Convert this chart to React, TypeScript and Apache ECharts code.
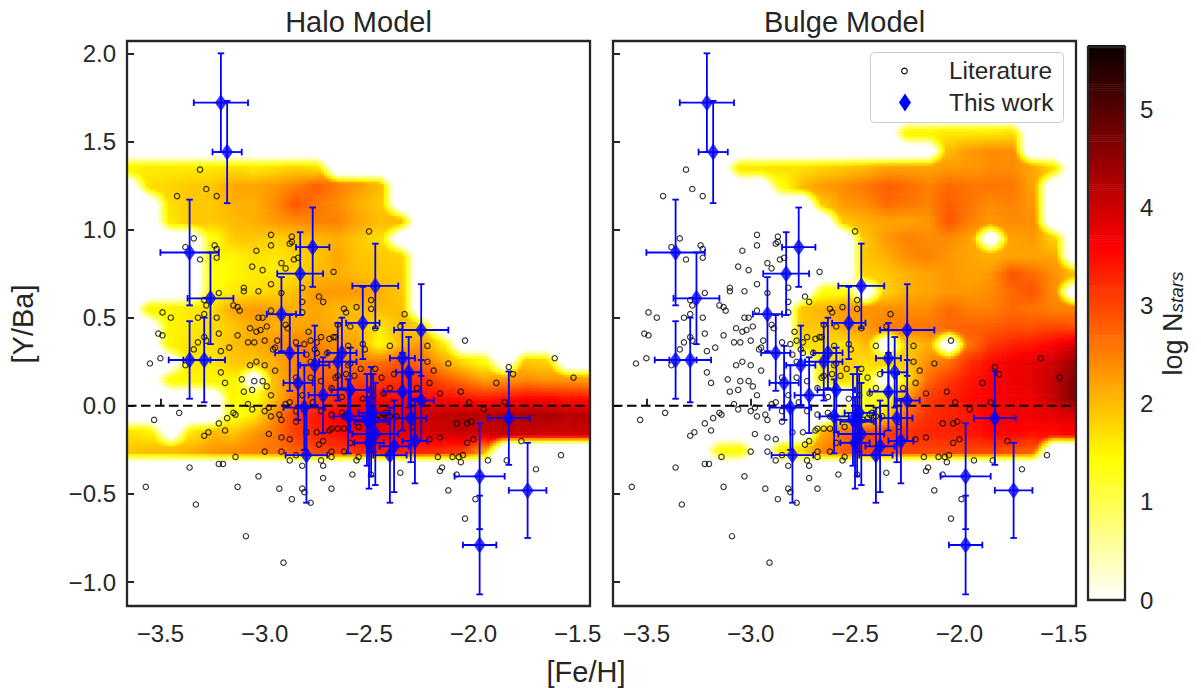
import React, { useEffect, useRef } from "react";
import * as echarts from "echarts";

const FONT = "Liberation Sans";
const INK = "#262626";
const xTicks = [-3.5, -3.0, -2.5, -2.0, -1.5];
const yTicks = [-1.0, -0.5, 0.0, 0.5, 1.0, 1.5, 2.0];
const cbTicks = [0, 1, 2, 3, 4, 5];
const xRange = [-3.66, -1.441];
const yRange = [-1.136, 2.07];
const cbMax = 5.64;
const zeroLine = [[-3.66, 0], [-1.441, 0]];

// log N_stars read per bin. Columns: [Fe/H] -3.65, -3.55, ... -1.45. Rows: [Y/Ba] 1.55, 1.45, ... -0.25.
const haloGrid = [
  [],
  [],
  [1.5,1.6,1.6,1.6,1.6,1.7,1.6,1.7,1.8,1.7],
  [0,1.7,1.8,1.9,1.9,2.2,2.2,2.3,2.5,2.8,2.5,2.3,2.0],
  [0,0,1.7,1.9,1.9,2.1,2.1,2.4,2.9,2.6,2.4,2.1,1.9],
  [0,0,1.6,1.9,1.9,2.0,2.1,2.3,2.4,2.5,2.5,2.2,2.0,2.0],
  [0,0,0,0,1.3,1.9,1.9,1.8,1.9,2.0,2.1,1.9,1.7],
  [0,0,0,0,1.5,1.5,1.7,1.6,1.8,1.9,2.2,1.9,1.9,1.8],
  [0,0,0,0,1.3,1.5,1.6,1.6,1.7,2.0,2.1,2.0,1.9,1.9],
  [0,0,0,0,1.4,1.6,1.7,1.8,2.0,2.3,2.3,2.3,2.1,1.9],
  [0,1.5,1.5,1.6,1.7,2.2,2.3,2.2,2.1,2.2,2.0,2.0,2.0,2.0],
  [0,0,1.5,1.6,1.7,1.9,2.2,2.1,2.2,2.2,2.1,2.0,1.6,2.0,1.8],
  [0,0,1.5,1.7,1.7,2.0,2.1,2.3,2.5,2.5,2.3,2.2,1.4,2.0,2.3,1.6],
  [0,0,0,1.6,1.6,1.9,1.9,2.1,2.5,2.7,2.5,2.6,2.6,2.9,2.7,2.2,1.7,1.4,0,1.9,1.8],
  [0,0,1.4,1.5,1.5,1.5,0,2.0,2.5,2.8,2.8,3.0,3.1,3.2,3.2,2.9,2.6,2.2,2.3,2.4,2.3,2.3,2.2],
  [0,0,0,0,0,1.5,1.3,2.0,2.7,3.0,3.2,3.4,3.5,3.5,3.5,3.5,3.4,3.3,3.4,3.5,3.5,3.4,3.4],
  [0,0,0,0,0,1.3,1.6,2.4,3.1,3.4,3.6,3.8,3.9,3.9,4.0,4.1,4.2,4.2,4.3,4.3,4.3,4.2,4.2],
  [1.7,1.5,0,1.6,2.0,1.9,2.3,2.6,3.1,3.3,3.5,3.7,3.8,3.8,3.9,4.0,4.1,4.0,4.1,4.0,4.0,4.0,4.0],
  [1.9,2.0,2.0,2.1,2.3,2.4,2.5,2.6,2.8,3.0,3.1,3.2,3.3,3.3,3.3,3.2,3.1,2.2],
];
const bulgeGrid = [
  [0,0,0,0,0,0,0,0,0,0,0,0,0,0,1.5,1.5,1.6,1.6,1.6,1.7],
  [0,0,0,0,0,0,0,0,0,0,0,0,0,0,0,0,2.0,2.3,2.4,2.4],
  [0,0,0,0,0,0,1.6,1.6,1.7,1.7,1.8,1.9,2.0,2.2,2.2,2.2,2.3,2.3,2.4,2.4,2.2,1.7],
  [0,0,0,0,0,0,0,0,1.3,2.0,2.3,2.4,2.6,2.8,2.7,2.5,2.7,2.6,2.6,2.6,2.2],
  [0,0,0,0,0,0,0,0,0,0,1.9,2.3,2.4,2.7,2.6,2.5,2.8,2.6,2.4,2.5,2.3],
  [0,0,0,0,0,0,0,0,0,0,0,1.9,2.1,2.2,2.2,2.3,2.9,2.5,2.3,2.4,2.4],
  [0,0,0,0,0,0,0,0,0,0,0,0,1.9,2.3,2.5,2.4,2.4,2.2,0,2.2,2.3,1.8],
  [0,0,0,0,0,0,0,0,0,0,0,0,1.9,2.1,2.4,2.5,2.3,2.2,2.1,2.2,2.2,2.2],
  [0,0,0,0,0,0,0,0,0,0,0,0,1.8,1.9,2.1,2.2,2.3,2.2,2.3,2.9,2.7,2.4,1.9],
  [0,0,0,0,0,0,0,0,0,0,1.3,1.4,0,1.8,2.1,2.2,2.3,2.3,2.4,2.7,2.9,2.4,0],
  [0,0,0,0,0,0,0,0,0,1.9,2.1,2.3,2.3,2.4,2.4,2.4,2.7,2.5,2.5,2.7,2.6,2.5,2.5],
  [0,0,0,0,0,0,0,0,0,1.9,1.9,2.2,2.3,2.5,2.6,2.6,2.7,2.8,2.8,2.9,2.9,3.0,2.9],
  [0,0,0,0,0,0,0,0,0,1.7,1.7,1.6,2.0,0,1.8,2.1,0,2.6,3.1,3.3,3.4,3.6,3.9],
  [0,0,0,0,0,0,0,0,0,0,1.6,1.9,1.7,1.8,1.9,2.4,2.6,3.2,3.5,3.7,3.8,4.0,4.4],
  [0,0,0,0,0,0,0,0,0,0,1.6,1.7,1.4,0,1.6,2.7,3.1,3.4,3.6,3.7,3.8,4.1,4.6],
  [0,0,0,0,0,0,0,0,0,0,0,0,1.2,1.2,2.3,3.1,3.3,3.5,3.6,3.7,3.7,4.1,4.6],
  [0,0,0,0,0,0,0,0,0,0,0,1.3,1.4,1.8,2.8,3.2,3.3,3.4,3.6,3.7,3.7,3.8,3.9],
  [0,0,0,0,0,0,0,0,0,0,2.1,2.7,3.0,3.1,3.2,3.3,3.3,3.4,3.6,3.6,3.5,3.5,3.6],
  [0,0,0,0,0,1.3,1.4,0,1.6,1.7,2.5,2.8,3.0,3.0,3.0,3.0,3.0,3.0,3.0,2.9,2.8],
];

const literature = [
  [-3.31,1.34],[-3.28,1.23],[-3.42,1.19],[-3.23,1.19],[-2.5,0.99],[-2.97,0.97],[-2.87,0.96],[-3.34,0.95],[-2.87,0.93],[-2.88,0.92],
  [-2.97,0.91],[-3.24,0.91],[-3.38,0.9],[-3.23,0.89],[-3.04,0.88],[-3.31,0.83],[-3.23,0.84],[-2.84,0.84],[-2.86,0.83],[-2.92,0.81],
  [-3.06,0.79],[-2.9,0.78],[-3.01,0.77],[-2.67,0.76],[-2.97,0.69],[-2.82,0.67],[-3.1,0.67],[-3.1,0.65],[-3.03,0.65],[-2.92,0.64],
  [-3.22,0.64],[-2.74,0.62],[-2.72,0.59],[-2.49,0.6],[-3.29,0.6],[-2.82,0.59],[-3.15,0.57],[-3.28,0.57],[-3.13,0.56],[-3.12,0.54],
  [-2.56,0.56],[-2.49,0.55],[-2.62,0.55],[-2.61,0.53],[-2.97,0.54],[-2.82,0.53],[-3.49,0.53],[-3.29,0.52],[-2.33,0.52],[-3.45,0.5],
  [-3.32,0.5],[-3.23,0.5],[-3.03,0.5],[-3.01,0.5],
  [-3.51,0.41],[-3.49,0.4],[-3.55,0.24],[-3.5,0.27],[-3.38,0.23],[-3.34,0.32],[-3.32,0.36],[-3.29,0.39],[-3.28,0.37],[-3.22,0.41],
  [-3.13,0.4],[-3.21,0.31],[-3.17,0.33],[-3.08,0.36],[-3.05,0.36],[-3.0,0.37],[-3.07,0.44],[-3.04,0.42],[-3.02,0.43],[-2.99,0.45],
  [-2.9,0.46],[-2.89,0.44],[-2.94,0.37],[-2.95,0.33],[-2.96,0.32],[-2.85,0.36],[-2.81,0.35],[-2.79,0.42],[-2.78,0.37],[-2.75,0.36],
  [-2.73,0.39],[-2.69,0.38],[-2.67,0.39],[-2.66,0.39],[-2.76,0.32],[-2.8,0.29],[-2.75,0.3],[-2.7,0.3],[-2.65,0.46],[-2.59,0.45],
  [-2.47,0.44],[-2.35,0.45],[-2.6,0.34],[-2.53,0.35],[-2.52,0.32],[-2.4,0.34],[-2.22,0.34],[-2.04,0.37],[-2.22,0.25],[-2.12,0.24],
  [-2.19,0.2],[-2.21,0.13],[-2.16,0.07],[-2.06,0.08],[-2.02,0.02],[-1.95,-0.02],[-1.89,0.13],[-1.83,0.22],[-1.81,0.18],[-1.85,0.02],
  [-1.61,0.27],[-1.52,0.16],[-2.08,-0.1],[-2.03,-0.1],[-2.01,-0.09],[-2.0,-0.19],[-2.03,-0.21],[-2.16,-0.18],[-2.21,-0.19],[-2.17,-0.29],
  [-2.1,-0.29],[-2.07,-0.29],[-2.05,-0.28],[-2.06,-0.32],[-2.15,-0.35],[-2.16,-0.37],[-2.08,-0.39],[-1.93,-0.31],[-1.84,-0.31],[-1.77,-0.2],
  [-1.58,-0.28],[-1.7,-0.36],[-2.12,-0.48],[-1.99,-0.53],[-2.04,-0.64],[-3.21,0.19],[-3.19,0.13],[-3.07,0.23],[-3.04,0.25],[-3.0,0.23],
  [-2.95,0.2],[-3.11,0.15],[-3.05,0.14],[-3.01,0.14],[-2.99,0.11],[-3.1,0.08],[-3.06,0.09],[-2.97,0.06],[-3.08,0.01],[-3.06,-0.02],
  [-2.98,-0.01],[-3.0,-0.03],[-2.97,-0.06],[-3.15,-0.04],[-3.14,-0.05],[-3.18,-0.07],[-3.22,-0.1],[-3.19,-0.14],[-3.27,-0.15],[-3.29,-0.17],
  [-3.41,-0.04],[-3.53,-0.08],[-3.14,-0.29],[-3.36,-0.35],[-3.22,-0.33],[-3.2,-0.33],[-3.03,-0.4],[-3.13,-0.46],[-3.57,-0.46],[-3.33,-0.56],
  [-3.09,-0.74],[-2.91,-0.89],[-2.98,-0.16],[-2.92,-0.18],[-2.88,-0.19],[-3.0,-0.26],[-2.92,-0.26],[-2.85,-0.28],[-2.88,-0.31],[-2.82,-0.34],
  [-2.73,-0.31],[-2.72,-0.34],[-2.72,-0.41],[-2.82,-0.47],[-2.93,-0.47],[-2.81,-0.49],[-2.68,-0.47],[-2.87,-0.53],[-2.78,-0.55],[-2.58,-0.39],
  [-2.49,-0.39],[-2.35,-0.38],[-2.56,-0.31],[-2.55,-0.29],[-2.68,-0.26],[-2.68,-0.29],[-2.62,-0.26],[-2.59,-0.21],[-2.74,-0.22],[-2.72,-0.2],
  [-2.75,-0.15],[-2.8,-0.15],[-2.69,-0.14],[-2.68,-0.13],[-2.65,-0.13],[-2.62,-0.13],[-2.68,-0.05],[-2.73,-0.03],[-2.85,-0.03],[-2.93,-0.05],
  [-2.92,-0.08],[-2.85,-0.09],[-2.88,0.02],[-2.9,0.01],[-2.77,0.02],[-2.82,0.06],[-2.78,0.16],[-2.85,0.16],[-2.78,0.25],[-2.73,0.14],
  [-2.68,0.1],[-2.66,0.16],[-2.65,0.17],[-2.63,0.05],[-2.61,0.18],[-2.6,0.23],[-2.59,0.24],[-2.57,0.17],[-2.54,0.21],[-2.47,0.21],
  [-2.44,0.16],[-2.38,0.18],[-2.53,0.04],[-2.48,0.06],[-2.43,0.07],[-2.4,0.1],[-2.27,0.1],[-2.63,-0.04],[-2.62,-0.06],[-2.43,-0.05],
  [-2.44,-0.07],[-2.42,-0.04],[-2.4,-0.06],[-2.37,-0.06],[-2.55,-0.12],[-2.29,-0.12],[-2.5,-0.17],[-2.46,-0.08],
];

// This work: [Fe/H], [Y/Ba], and their errors
const workFeH = [-3.21,-3.18,-3.36,-3.26,-2.83,-2.77,-2.47,-2.92,-2.53,-2.25,-3.36,-3.29,-2.88,-2.63,-2.84,-2.76,-2.65,-2.72,-2.81,-2.8,-2.59,-2.6,-2.34,-2.31,-2.34,-2.25,-2.3,-2.28,-2.38,-2.4,-2.51,-2.5,-2.47,-2.49,-2.48,-1.83,-1.97,-1.74,-1.97];
const workYBa = [1.72,1.44,0.87,0.61,0.75,0.9,0.68,0.52,0.47,0.43,0.26,0.26,0.3,0.3,0.13,0.23,0.25,0.06,-0.01,-0.28,0.09,-0.06,0.27,0.19,0.08,0.03,-0.07,-0.2,-0.23,-0.28,-0.08,-0.21,-0.16,-0.09,-0.04,-0.07,-0.4,-0.48,-0.79];
const workFeHErr = [0.13,0.07,0.14,0.11,0.11,0.08,0.11,0.07,0.08,0.13,0.1,0.1,0.07,0.07,0.07,0.07,0.09,0.07,0.1,0.1,0.09,0.07,0.06,0.06,0.09,0.06,0.075,0.06,0.07,0.08,0.09,0.07,0.11,0.08,0.07,0.1,0.12,0.09,0.08];
const workYBaErr = [0.28,0.29,0.3,0.26,0.235,0.225,0.24,0.21,0.205,0.26,0.22,0.24,0.215,0.2,0.21,0.225,0.22,0.215,0.24,0.27,0.24,0.21,0.2,0.2,0.22,0.23,0.25,0.24,0.26,0.27,0.26,0.26,0.29,0.31,0.22,0.265,0.3,0.27,0.28];

const clamp01 = (v: number) => Math.max(0, Math.min(1, v));
function hotR(v: number) {
  const s = 1 - v / cbMax;
  const r = clamp01(0.0416 + (s / 0.365) * 0.9584);
  const g = clamp01((s - 0.365) / 0.381);
  const b = clamp01((s - 0.746) / 0.254);
  return `rgb(${Math.round(r * 255)},${Math.round(g * 255)},${Math.round(b * 255)})`;
}
function cell(grid: number[][], row: number, col: number) {
  if (row < 0 || row >= grid.length) return 0;
  const c = Math.max(0, Math.min(22, col));
  return grid[row][c] ?? 0;
}
// Smooth between filled bins; empty bins only cut a narrow edge into the field.
function sample(grid: number[][], x: number, y: number) {
  const f = Math.max(0, Math.min(22, (x + 3.65) / 0.1));
  const g = (1.55 - y) / 0.1;
  const c0 = Math.floor(f), r0 = Math.floor(g);
  const a = f - c0, b = g - r0;
  const corners = [
    [cell(grid, r0, c0), (1 - a) * (1 - b)],
    [cell(grid, r0, c0 + 1), a * (1 - b)],
    [cell(grid, r0 + 1, c0), (1 - a) * b],
    [cell(grid, r0 + 1, c0 + 1), a * b],
  ];
  let sum = 0, m = 0;
  for (const [v, w] of corners) if (v > 0) { sum += v * w; m += w; }
  if (m <= 0) return 0;
  return (sum / m) * clamp01((m - 0.6) / 0.52 + 0.5);
}
function fineCells(grid: number[][]) {
  const out: number[][] = [];
  const step = 0.015;
  for (let x = xRange[0]; x < xRange[1] - 1e-6; x += step) {
    for (let y = -0.36; y < 1.68; y += step) {
      const v = sample(grid, x + step / 2, y + step / 2);
      if (v > 0.04) out.push([x, y, Math.min(x + step, xRange[1]), y + step, v]);
    }
  }
  return out;
}

const fmt = (v: number) => v.toFixed(1).replace("-", "\u2212");
const heatRender = (_: any, api: any) => {
  const p0 = api.coord([api.value(0), api.value(3)]);
  const p1 = api.coord([api.value(2), api.value(1)]);
  return {
    type: "rect",
    shape: { x: p0[0], y: p0[1], width: p1[0] - p0[0] + 0.6, height: p1[1] - p0[1] + 0.6 },
    style: { fill: hotR(api.value(4)) },
    silent: true,
  };
};
const errRender = (_: any, api: any) => {
  const x = api.value(0), y = api.value(1), ex = api.value(2), ey = api.value(3);
  const L = api.coord([x - ex, y]), R = api.coord([x + ex, y]);
  const T = api.coord([x, y + ey]), B = api.coord([x, y - ey]);
  const cap = 3.3;
  const st = { stroke: "#0000ff", lineWidth: 1.8 };
  const ln = (a: number, b: number, c: number, d: number) => ({ type: "line", shape: { x1: a, y1: b, x2: c, y2: d }, style: st, silent: true });
  return {
    type: "group",
    children: [
      ln(L[0], L[1], R[0], R[1]), ln(T[0], T[1], B[0], B[1]),
      ln(L[0], L[1] - cap, L[0], L[1] + cap), ln(R[0], R[1] - cap, R[0], R[1] + cap),
      ln(T[0] - cap, T[1], T[0] + cap, T[1]), ln(B[0] - cap, B[1], B[0] + cap, B[1]),
    ],
  };
};

const panels = [
  { title: "Halo Model", grid: haloGrid, left: 127 },
  { title: "Bulge Model", grid: bulgeGrid, left: 613 },
];
const PW = 463, PT = 41, PH = 565;
const workRows = workFeH.map((x, i) => [x, workYBa[i], workFeHErr[i], workYBaErr[i]]);
const cbCells: number[][] = [];
for (let v = 0; v < cbMax; v += 0.02) cbCells.push([v, v + 0.02]);

function buildOption() {
  const series: any[] = [];
  panels.forEach((p, i) => {
    series.push({ type: "custom", xAxisIndex: i, yAxisIndex: i, data: fineCells(p.grid), renderItem: heatRender, encode: { x: [0, 2], y: [1, 3] }, silent: true, z: 1, progressive: 0 });
    series.push({ type: "line", xAxisIndex: i, yAxisIndex: i, data: zeroLine, showSymbol: false, lineStyle: { color: "#000", width: 2, type: [9.5, 4.5] }, silent: true, z: 2 });
    series.push({ type: "scatter", name: "Literature", xAxisIndex: i, yAxisIndex: i, data: literature, symbol: "circle", symbolSize: 5.4, itemStyle: { color: "rgba(0,0,0,0)", borderColor: "#000", borderWidth: 1.15 }, silent: true, z: 3 });
    series.push({ type: "custom", xAxisIndex: i, yAxisIndex: i, data: workRows, renderItem: errRender, encode: { x: 0, y: 1 }, silent: true, z: 4 });
    series.push({ type: "scatter", name: "This work", xAxisIndex: i, yAxisIndex: i, data: workRows.map((r) => [r[0], r[1]]), symbol: "diamond", symbolSize: [12, 17], itemStyle: { color: "#0000ff" }, silent: true, z: 5 });
  });
  series.push({
    type: "custom", xAxisIndex: 2, yAxisIndex: 2, data: cbCells, silent: true, progressive: 0,
    encode: { y: [0, 1] },
    renderItem: (_: any, api: any) => {
      const a = api.coord([0, api.value(1)]), b = api.coord([1, api.value(0)]);
      return { type: "rect", shape: { x: a[0], y: a[1], width: b[0] - a[0], height: b[1] - a[1] + 0.6 }, style: { fill: hotR(api.value(0)) }, silent: true };
    },
  });

  const tickStyle = { show: true, inside: true, length: 7, lineStyle: { color: INK, width: 2 } };
  const frame = (x: number, y: number, w: number, h: number) => ({
    type: "rect", z: 100, silent: true, shape: { x, y, width: w, height: h }, style: { fill: "none", stroke: INK, lineWidth: 2.3 },
  });
  const txt = (text: string, x: number, y: number, size: number, align = "left", rot = 0) => ({
    type: "text", z: 110, silent: true, x, y, rotation: rot,
    style: { text, x: 0, y: 0, fontFamily: FONT, fontSize: size, fill: INK, align, verticalAlign: "middle" },
  });

  return {
    animation: false,
    backgroundColor: "#fff",
    textStyle: { fontFamily: FONT },
    title: panels.map((p) => ({
      text: p.title, left: p.left + PW / 2 - 5, top: 2, textAlign: "center",
      textStyle: { fontFamily: FONT, fontSize: 29, fontWeight: "normal", color: INK },
    })),
    grid: [
      { left: 127, top: PT, width: PW, height: PH },
      { left: 613, top: PT, width: PW, height: PH },
      { left: 1088, top: 47, width: 37, height: 553 },
    ],
    xAxis: [0, 1].map((i) => ({
      type: "value", gridIndex: i, min: xRange[0], max: xRange[1],
      axisLine: { show: false }, splitLine: { show: false }, axisTick: { ...tickStyle, customValues: xTicks },
      axisLabel: { customValues: xTicks, formatter: fmt, margin: 15, fontFamily: FONT, fontSize: 24, color: INK },
    })).concat([{ type: "value", gridIndex: 2, min: 0, max: 1, show: false } as any]),
    yAxis: [
      ...[0, 1].map((i) => ({
        type: "value", gridIndex: i, min: yRange[0], max: yRange[1],
        axisLine: { show: false }, splitLine: { show: false }, axisTick: { ...tickStyle, customValues: yTicks },
        axisLabel: { show: i === 0, customValues: yTicks, formatter: fmt, margin: 11, fontFamily: FONT, fontSize: 24, color: INK },
      })),
      {
        type: "value", gridIndex: 2, position: "right", min: 0, max: cbMax,
        axisLine: { show: false }, splitLine: { show: false }, axisTick: { show: false },
        axisLabel: { customValues: cbTicks, formatter: (v: number) => String(v), margin: 15, fontFamily: FONT, fontSize: 24, color: INK },
        name: "{a|log N}{s|stars}", nameLocation: "middle", nameRotate: 90, nameGap: 34,
        nameTextStyle: {
          rich: {
            a: { fontFamily: FONT, fontSize: 27, color: INK },
            s: { fontFamily: FONT, fontSize: 19, fontStyle: "italic", color: INK, verticalAlign: "bottom", padding: [8, 0, 0, 0] },
          },
        },
      },
    ],
    series,
    graphic: [
      frame(127, PT, PW, PH),
      frame(613, PT, PW, PH),
      frame(1088, 47, 37, 553),
      { type: "rect", z: 105, silent: true, shape: { x: 870.5, y: 52.5, width: 193, height: 70, r: 4 }, style: { fill: "rgba(255,255,255,0.9)", stroke: "#cccccc", lineWidth: 1 } },
      { type: "circle", z: 110, silent: true, shape: { cx: 904.5, cy: 71, r: 2.8 }, style: { fill: "none", stroke: "#000", lineWidth: 1.1 } },
      { type: "polygon", z: 110, silent: true, shape: { points: [[905, 93.5], [911, 102.5], [905, 111.5], [899, 102.5]] }, style: { fill: "#0000ff" } },
      txt("Literature", 949, 70, 24.4),
      txt("This work", 949, 102, 24.4),
      txt("[Fe/H]", 586, 672, 29, "center"),
      txt("[Y/Ba]", 23, 324, 29, "center", Math.PI / 2),
    ],
  };
}

export default function App() {
  const ref = useRef<HTMLDivElement>(null);
  useEffect(() => {
    const chart = echarts.init(ref.current!, undefined, { renderer: "svg" });
    chart.setOption(buildOption() as any);
    return () => chart.dispose();
  }, []);
  return <div ref={ref} style={{ position: "absolute", left: 0, top: 0, width: 1201, height: 688 }} />;
}
